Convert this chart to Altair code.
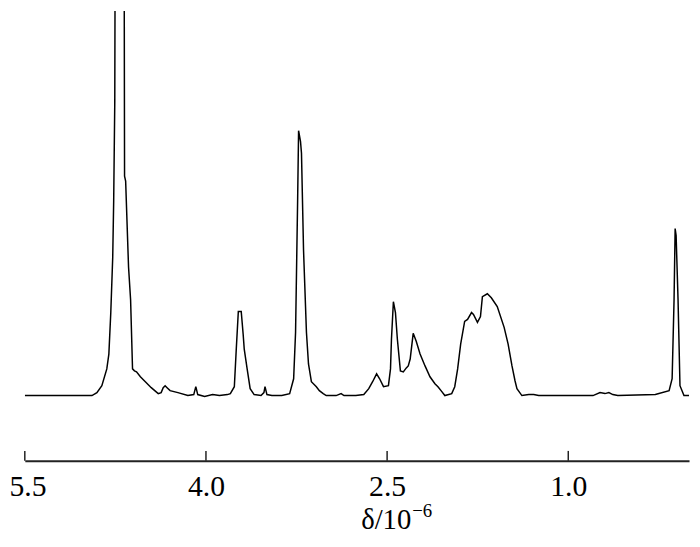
import altair as alt
import pandas as pd

# Chemical shift (ppm) and signal intensity (arbitrary units)
ppm = [5.500, 4.944, 4.903, 4.862, 4.821, 4.804, 4.788, 4.772, 4.764, 4.755, 4.751,
       4.678, 4.674, 4.665, 4.641, 4.624, 4.608, 4.592, 4.575, 4.543, 4.502, 4.453,
       4.395, 4.371, 4.354, 4.338, 4.322, 4.297, 4.232, 4.150, 4.101, 4.084, 4.068,
       4.011, 3.945, 3.888, 3.822, 3.798, 3.765, 3.749, 3.732, 3.708, 3.692, 3.683,
       3.659, 3.634, 3.601, 3.544, 3.520, 3.511, 3.495, 3.454, 3.372, 3.307, 3.274,
       3.258, 3.241, 3.233, 3.217, 3.209, 3.192, 3.168, 3.151, 3.127, 3.086, 3.061,
       3.029, 3.004, 2.922, 2.881, 2.857, 2.759, 2.693, 2.652, 2.620, 2.587, 2.562,
       2.530, 2.489, 2.472, 2.464, 2.448, 2.431, 2.415, 2.390, 2.366, 2.341, 2.325,
       2.309, 2.284, 2.259, 2.227, 2.186, 2.145, 2.104, 2.079, 2.047, 2.022, 1.965,
       1.940, 1.916, 1.891, 1.858, 1.834, 1.801, 1.785, 1.752, 1.727, 1.711, 1.670,
       1.637, 1.588, 1.531, 1.498, 1.466, 1.441, 1.425, 1.384, 1.327, 1.286, 1.245,
       1.122, 0.795, 0.737, 0.696, 0.664, 0.631, 0.590, 0.279, 0.165, 0.140, 0.124,
       0.115, 0.107, 0.091, 0.075, 0.042, 0.000]
intensity = [0, 0, 3, 10, 27, 42, 84, 140, 197, 297, 500,
             500, 222, 217, 130, 97, 27, 25, 24, 19, 14, 8,
             2, 3, 8, 10, 8, 5, 3, 0, 1, 9, 1,
             -1, 1, 0, 1, 2, 9, 47, 85, 85, 62, 47,
             27, 7, 1, 0, 3, 9, 1, 0, 0, 2, 17,
             64, 197, 268, 257, 245, 147, 64, 32, 14, 9, 5,
             2, 0, 0, 2, 0, 0, 1, 7, 14, 22, 17,
             9, 10, 27, 57, 95, 84, 57, 25, 24, 28, 30,
             37, 63, 55, 42, 30, 19, 12, 9, 4, 0, 2,
             9, 27, 52, 75, 77, 84, 82, 74, 80, 100, 103,
             99, 90, 69, 52, 30, 15, 7, 0, 1, 1, 0,
             0, 0, 3, 2, 3, 1, 0, 1, 5, 17, 97,
             169, 162, 97, 10, 0, 0]

tick_values = [5.5, 4.0, 2.5, 1.0]
tick_labels = ["5.5", "4.0", "2.5", "1.0"]
title_main = "δ/10"
title_sup = "−6"

spec = pd.DataFrame({"ppm": ppm, "intensity": intensity})
ticks = pd.DataFrame({"ppm": tick_values, "label": tick_labels})

W, H = 672, 455
FONT = "Liberation Serif"

xscale = alt.Scale(domain=[5.5, 0.0], nice=False, zero=False)
yscale = alt.Scale(domain=[-66, 389], nice=False, zero=False)

line = alt.Chart(spec).mark_line(color="black", strokeWidth=1.5, clip=True).encode(
    x=alt.X("ppm:Q", scale=xscale,
            axis=alt.Axis(values=tick_values, ticks=False, tickSize=0, grid=False,
                          domainColor="#222222", domainWidth=2,
                          labelFont=FONT, labelFontSize=30, labelColor="black",
                          labelFlush=True, labelFlushOffset=16, labelBound=False,
                          labelPadding=11, labelExpr="format(datum.value, '.1f')",
                          title=None)),
    y=alt.Y("intensity:Q", scale=yscale, axis=None),
    order=alt.Order("ppm:Q", sort="descending"),
)

tick_marks = alt.Chart(ticks).mark_rule(color="#222222", strokeWidth=1.5).encode(
    x=alt.X("ppm:Q", scale=xscale),
    y=alt.value(H - 10),
    y2=alt.value(H),
)

title1 = alt.Chart(pd.DataFrame({"t": [title_main]})).mark_text(
    font=FONT, fontSize=29, align="right", baseline="alphabetic", color="black"
).encode(text="t:N", x=alt.value(391), y=alt.value(524))

title2 = alt.Chart(pd.DataFrame({"t": [title_sup]})).mark_text(
    font=FONT, fontSize=19, align="left", baseline="alphabetic", color="black"
).encode(text="t:N", x=alt.value(392), y=alt.value(512))

chart = alt.layer(line, tick_marks, title1, title2).properties(
    width=W, height=H,
    autosize=alt.AutoSizeParams(type="none"),
    padding={"left": 17, "top": 0, "right": 3, "bottom": 76},
).configure(background="white").configure_view(stroke=None)

chart.save("out.html", embed_options={"renderer": "svg", "actions": False})
